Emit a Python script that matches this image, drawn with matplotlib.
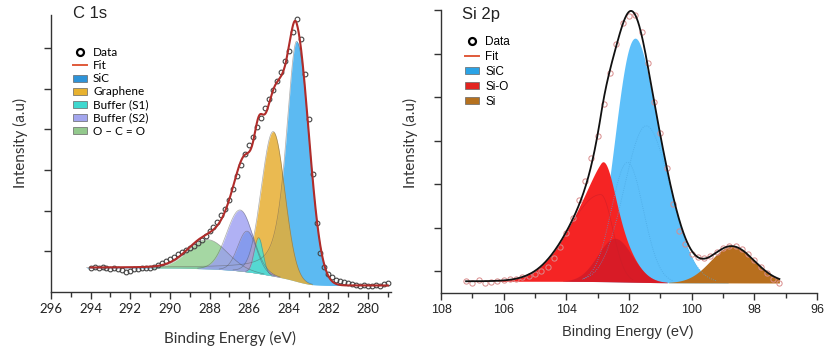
import numpy as np
import matplotlib.pyplot as plt
from matplotlib.lines import Line2D
from matplotlib.patches import Patch

# ---- C 1s : measured points (binding energy grid, intensity in a.u.) ----
c1s_energy = np.linspace(294.0, 279.0, 76)
c1s_counts = [0.60, 0.62, 0.60, 0.61, 0.58, 0.57, 0.59, 0.56, 0.55, 0.50,
              0.52, 0.56, 0.57, 0.58, 0.58, 0.60, 0.62, 0.66, 0.72, 0.77,
              0.82, 0.87, 0.93, 0.98, 1.03, 1.07, 1.12, 1.20, 1.28, 1.37,
              1.50, 1.60, 1.72, 1.88, 2.05, 2.25, 2.52, 2.85, 3.12, 3.38,
              3.60, 3.82, 4.05, 4.28, 4.52, 4.75, 4.97, 5.18, 5.40, 5.68,
              5.92, 6.38, 6.72, 6.22, 5.35, 4.25, 2.90, 1.70, 0.95, 0.62,
              0.45, 0.36, 0.30, 0.27, 0.24, 0.22, 0.19, 0.17, 0.15, 0.16,
              0.14, 0.15, 0.16, 0.15, 0.19, 0.22]

# C 1s fit components: centre, height, half widths on the high / low BE side,
# lorentzian share of the high BE tail
c1s_names = ['hump', 'SiC', 'Graphene', 'O – C = O', 'Buffer (S2)', 'Buffer (S1)']
c1s_centers = [286.10, 283.60, 284.78, 288.10, 286.45, 285.52]
c1s_heights = [1.00, 5.90, 3.55, 0.72, 1.50, 0.88]
c1s_hw_high = [0.55, 0.62, 0.70, 1.15, 0.80, 0.26]
c1s_hw_low = [0.55, 0.74, 0.68, 1.15, 0.75, 0.26]
c1s_eta = [0.0, 0.60, 0.0, 0.0, 0.0, 0.0]
c1s_bg = (0.16, 0.59)   # background at low / high binding energy

c1s_fill = ['#3a95dc', '#5cbaf2', '#e7ae33', '#8fcd8c', '#9a9cf2', '#47e3d3']
c1s_alpha = [0.95, 1.0, 0.85, 0.8, 0.78, 0.85]
c1s_legend = ['SiC', 'Graphene', 'Buffer (S1)', 'Buffer (S2)', 'O – C = O']
c1s_legend_colors = ['#2e93d8', '#e8b22f', '#3fd8cf', '#a3a6ee', '#93c98d']

# ---- Si 2p ----
si_energy = np.linspace(107.2, 97.2, 51)
si_counts = [0.28, 0.22, 0.31, 0.24, 0.25, 0.27, 0.29, 0.33, 0.32, 0.36,
             0.40, 0.44, 0.50, 0.60, 0.80, 1.05, 1.38, 1.72, 2.14, 2.58,
             3.10, 3.62, 4.35, 5.05, 5.72, 6.20, 6.36, 6.40, 6.00, 5.28,
             4.38, 3.67, 2.88, 2.05, 1.42, 1.12, 0.90, 0.82, 0.80, 0.86,
             0.94, 1.03, 1.09, 1.07, 1.01, 0.90, 0.75, 0.60, 0.45, 0.33, 0.24]

si_names = ['SiC a', 'SiC b', 'Si-O a', 'Si-O b', 'Si']
si_centers = [101.45, 102.05, 102.90, 102.45, 98.72]
si_heights = [3.60, 2.75, 2.00, 1.00, 0.84]
si_hw_high = [0.82, 0.60, 1.20, 0.65, 0.80]
si_hw_low = [0.90, 0.60, 0.45, 0.65, 0.85]
si_bg = (0.23, 0.27)

si_legend = ['SiC', 'Si-O', 'Si']
si_legend_colors = ['#2aa3e6', '#e2231f', '#b5711f']


def peak(E, c, h, hw_hi, hw_lo, eta=0.0):
    # split gaussian, optional lorentzian tail towards high binding energy
    hi = E >= c
    w = np.where(hi, hw_hi, hw_lo)
    x = (E - c) / w
    e = np.where(hi, eta, 0.0)
    return h * ((1 - e) * np.exp(-np.log(2) * x ** 2) + e / (1 + x ** 2))


def shirley(E, signal, low, high):
    # E ascending, background steps up towards high binding energy
    cum = np.concatenate([[0], np.cumsum((signal[1:] + signal[:-1]) / 2 * np.diff(E))])
    return low + (high - low) * cum / cum[-1]


def style_axes(ax, font):
    for s in ['top', 'right']:
        ax.spines[s].set_visible(False)
    for s in ['left', 'bottom']:
        ax.spines[s].set_color('#333333')
        ax.spines[s].set_linewidth(1.0)
    ax.tick_params(which='both', direction='out', color='#333333', width=1.0)
    ax.tick_params(which='major', length=5, pad=3, labelsize=9.5)
    ax.tick_params(which='minor', length=3.5)
    ax.tick_params(axis='y', labelleft=False)
    for t in ax.get_xticklabels():
        t.set_fontfamily(font)
        t.set_color('#222222')


fig = plt.figure(figsize=(8.24, 3.49), dpi=100)

# ======================= C 1s =======================
ax1 = fig.add_axes([51 / 824, 1 - 292 / 349, 340 / 824, 277 / 349])
E1 = np.linspace(279.0, 294.2, 1200)
comps1 = [peak(E1, c, h, a, b, e) for c, h, a, b, e in
          zip(c1s_centers, c1s_heights, c1s_hw_high, c1s_hw_low, c1s_eta)]
total1 = np.sum(comps1, axis=0)
bg1 = shirley(E1, total1, *c1s_bg)

for comp, col, al in zip(comps1, c1s_fill, c1s_alpha):
    m = comp > 0.01
    ax1.fill_between(E1, bg1, bg1 + comp, where=m, color=col, alpha=al, lw=0)
    edge = np.where(m, bg1 + comp, np.nan)
    ax1.plot(E1, edge, color='#555555', lw=0.5, alpha=0.5)

ax1.plot(c1s_energy, c1s_counts, 'o', mfc='none', mec='#444444', ms=3.4, mew=0.8, zorder=5)
ax1.plot(E1[E1 <= 294.0], (bg1 + total1)[E1 <= 294.0], color='#b02c2a', lw=1.5, zorder=6)

ax1.set_xlim(296, 278.84)
ax1.set_ylim(0, 6.806)
ax1.set_xticks(np.arange(296, 279, -2))
ax1.set_xticks(np.arange(295, 278, -2), minor=True)
ax1.set_yticks(range(1, 7))
style_axes(ax1, 'Lato')

h1 = [Line2D([], [], ls='none', marker='o', mfc='none', mec='black', ms=5, mew=1.6),
      Line2D([], [], color='#e05a3a', lw=1.4)]
h1 += [Patch(facecolor=c, edgecolor='#666666', lw=0.5) for c in c1s_legend_colors]
ax1.legend(h1, ['Data', 'Fit'] + c1s_legend, loc='upper left',
           bbox_to_anchor=(73 / 824, 1 - 47 / 349), bbox_transform=fig.transFigure,
           frameon=False, prop={'family': 'Lato', 'size': 8.5}, handlelength=1.2,
           handleheight=0.55, labelspacing=0.18, handletextpad=0.5,
           borderpad=0, borderaxespad=0)

fig.text(73 / 824, 1 - 14 / 349, 'C 1s', fontsize=12, family='Liberation Sans',
         va='center', ha='left', color='#222222')
fig.text(20 / 824, 1 - 143 / 349, 'Intensity (a.u)', rotation=90, fontsize=11,
         family='Lato', va='center', ha='center', color='#333333')
fig.text(230 / 824, 1 - 338 / 349, 'Binding Energy (eV)', fontsize=11,
         family='Lato', va='center', ha='center', color='#333333')

# ======================= Si 2p =======================
ax2 = fig.add_axes([441 / 824, 1 - 293 / 349, 376 / 824, 283 / 349])
E2 = np.linspace(97.2, 107.2, 900)
comps2 = [peak(E2, c, h, a, b) for c, h, a, b in
          zip(si_centers, si_heights, si_hw_high, si_hw_low)]
total2 = np.sum(comps2, axis=0)
bg2 = shirley(E2, total2, *si_bg)

sic = comps2[0] + comps2[1]
sio = comps2[2] + comps2[3]
si = comps2[4]

ax2.fill_between(E2, bg2, bg2 + sic, where=sic > 0.01, color='#5ec0fa', lw=0)
for c in comps2[:2]:
    ax2.plot(E2, np.where(c > 0.05, bg2 + c, np.nan), color='#4aa6e0', lw=0.6, ls=':', alpha=0.8)
ax2.fill_between(E2, bg2, bg2 + sio, where=sio > 0.01, color='#f52424', lw=0)
ax2.fill_between(E2, bg2, bg2 + comps2[3], where=comps2[3] > 0.01, color='#b5122a', alpha=0.45, lw=0)
ax2.plot(E2, np.where(comps2[2] > 0.05, bg2 + comps2[2], np.nan), color='#c81e28', lw=0.5, alpha=0.6)
ax2.fill_between(E2, bg2, bg2 + si, where=si > 0.01, color='#b86f1e', lw=0)

ax2.plot(si_energy, si_counts, 'o', mfc='none', mec='#d98c8c', ms=3.8, mew=0.7, zorder=5)
ax2.plot(E2, bg2 + total2, color='#111111', lw=1.3, zorder=6)

ax2.set_xlim(108, 96)
ax2.set_ylim(0, 6.506)
ax2.set_xticks(np.arange(108, 95, -2))
ax2.set_xticks(np.arange(107, 96, -2), minor=True)
ax2.set_yticks(np.arange(0.5, 6.6, 1.0))
style_axes(ax2, 'Liberation Sans')
for t in ax2.get_xticklabels():
    t.set_fontsize(9)

h2 = [Line2D([], [], ls='none', marker='o', mfc='none', mec='black', ms=5, mew=1.6),
      Line2D([], [], color='#e05a3a', lw=1.4)]
h2 += [Patch(facecolor=c, edgecolor='#666666', lw=0.5) for c in si_legend_colors]
ax2.legend(h2, ['Data', 'Fit'] + si_legend, loc='upper left',
           bbox_to_anchor=(465 / 824, 1 - 36 / 349), bbox_transform=fig.transFigure,
           frameon=False, prop={'family': 'Liberation Sans', 'size': 8.5}, handlelength=1.2,
           handleheight=0.55, labelspacing=0.25, handletextpad=0.5,
           borderpad=0, borderaxespad=0)

fig.text(462 / 824, 1 - 14 / 349, 'Si 2p', fontsize=12, family='Liberation Sans',
         va='center', ha='left', color='#222222')
fig.text(410 / 824, 1 - 143 / 349, 'Intensity (a.u)', rotation=90, fontsize=11,
         family='Lato', va='center', ha='center', color='#333333')
fig.text(628 / 824, 1 - 332 / 349, 'Binding Energy (eV)', fontsize=10.5,
         family='Liberation Sans', va='center', ha='center', color='#333333')

fig.savefig('out.png', dpi=100)
